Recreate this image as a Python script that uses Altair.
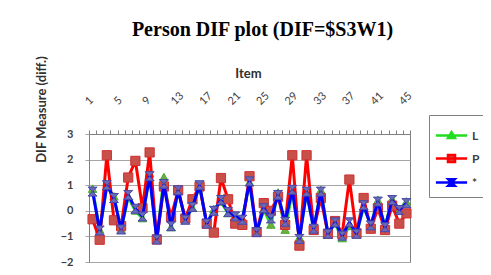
import altair as alt
import pandas as pd

ITEMS = list(range(1, 46))
SERIES = ["L", "P", "*"]
TICK_LABELS = [1, 5, 9, 13, 17, 21, 25, 29, 33, 37, 41, 45]
Y_TICKS = [-2, -1, 0, 1, 2, 3]

L_VALUES = [0.85, -0.75, 0.95, 0.55, -0.75, 0.55, 0.0, -0.3, 1.45, -1.12,
            1.3, -0.65, 0.8, -0.35, 0.1, 1.0, -0.5, 0.05, 0.35, -0.1,
            -0.2, -0.3, 1.1, -0.83, 0.05, -0.55, 0.7, -0.75, 0.75, -1.05,
            0.7, -0.7, 0.8, -0.9, -0.5, -1.08, -0.6, -0.9, 0.15, -0.55,
            0.4, -0.6, 0.45, 0.05, 0.35]
P_VALUES = [-0.33, -1.13, 2.17, -0.37, -0.6, 1.3, 1.95, 0.1, 2.28, -1.12,
            0.95, -0.25, 0.8, -0.3, 0.45, 0.95, -0.5, -0.85, 1.28, 0.45,
            -0.5, -0.55, 1.35, -0.83, 0.3, 0.0, 0.55, -0.55, 2.17, -1.36,
            2.17, -0.75, 0.5, -0.9, -0.4, -0.9, 1.22, -0.88, 0.5, -0.7,
            0.1, -0.75, 0.2, -0.5, -0.1]
ALL_VALUES = [0.75, -0.77, 1.0, 0.5, -0.73, 0.62, 0.08, -0.22, 1.35, -1.12,
              1.05, -0.6, 0.8, -0.35, 0.15, 1.0, -0.5, 0.0, 0.42, -0.05,
              -0.22, -0.35, 1.15, -0.83, 0.1, -0.3, 0.62, -0.43, 0.82, -1.1,
              0.75, -0.7, 0.75, -0.9, -0.45, -0.97, -0.45, -0.9, 0.22, -0.57,
              0.36, -0.64, 0.42, 0.03, 0.3]

LINE_COLORS = ["#22dd22", "#ff0000", "#0000ff"]
MARK_FILLS = ["#6fb03c", "#c8504a", "#6a6ab8"]
MARK_STROKES = ["#44aa33", "#d03030", "#4848a8"]
MARK_SHAPES = ["M0,-1L1,0.8L-1,0.8Z", "M-1,-1H1V1H-1Z", "M-1,-1L1,-1L-1,1L1,1Z"]
MARK_SIZES = [70, 85, 81]
LEGEND_SHAPES = [
    "M-1.2,0H1.2M0,-0.26L0.27,0.2L-0.27,0.2Z",
    "M-1.2,0H1.2M-0.27,-0.27H0.27V0.27H-0.27Z",
    "M-1.2,0H1.2M-0.25,-0.25L0.25,-0.25L-0.25,0.25L0.25,0.25Z",
]

rows = []
for s, vals in zip(SERIES, [L_VALUES, P_VALUES, ALL_VALUES]):
    for i, v in zip(ITEMS, vals):
        rows.append({"item": i, "series": s, "value": v})
df = pd.DataFrame(rows)

boundaries = [i - 0.5 for i in ITEMS] + [ITEMS[-1] + 0.5]
label_expr = (
    "indexof(" + str(TICK_LABELS) + ", datum.value + 0.5) >= 0 ? "
    "toString(datum.value + 0.5) : ''"
)

x_enc = alt.X(
    "item:Q",
    scale=alt.Scale(domain=[boundaries[0], boundaries[-1]], nice=False, zero=False),
    axis=alt.Axis(
        orient="top", values=boundaries, labelExpr=label_expr,
        labelAngle=-45, labelAlign="left", labelBaseline="middle",
        labelOffset=-2, labelPadding=27, labelOverlap=False, labelFlush=False,
        labelBound=False, labelFontSize=11, labelColor="#404040",
        tickSize=4, tickColor="#808080", domainColor="#808080", grid=False,
        title="Item", titleFontSize=13, titleFontWeight="bold", titleColor="#303030",
        titleX=159, titleY=-61, titleBaseline="middle", titleAlign="center",
    ),
)
y_enc = alt.Y(
    "value:Q",
    scale=alt.Scale(domain=[Y_TICKS[0], Y_TICKS[-1]], nice=False, zero=False),
    axis=alt.Axis(
        values=Y_TICKS, grid=True, gridColor="#a6a6a6", tickSize=4,
        tickColor="#a6a6a6", domainColor="#808080", labelPadding=12,
        labelFontSize=11, labelFontWeight="bold", labelColor="#404040",
        title="DIF Measure (diff.)", titleFontSize=13, titleFontWeight="bold",
        titleColor="#303030", titleAngle=270, titleX=-48, titleY=-25,
        titleBaseline="middle", titleAlign="center",
    ),
)

base = alt.Chart(df)
layers = []
for k, s in enumerate(SERIES):
    sub = base.transform_filter(alt.datum.series == s)
    layers.append(
        sub.mark_line(color=LINE_COLORS[k], strokeWidth=3).encode(x=x_enc, y=y_enc)
    )
    layers.append(
        sub.mark_point(
            shape=MARK_SHAPES[k], filled=True, fill=MARK_FILLS[k],
            stroke=MARK_STROKES[k], strokeWidth=1, size=MARK_SIZES[k], opacity=1,
        ).encode(x=x_enc, y=y_enc)
    )

legend = alt.Legend(
    orient="none", legendX=340, legendY=-19, title=None,
    symbolSize=676, symbolStrokeWidth=2.5, symbolOpacity=1,
    symbolFillColor="#ffffff", symbolOffset=2,
    labelFontSize=12, labelFontWeight="bold", labelColor="#404040",
    labelOffset=6, rowPadding=0, padding=6,
    strokeColor="#808080", fillColor="#ffffff",
)
legend_layer = base.transform_filter("false").mark_point(
    filled=False, strokeWidth=2.5
).encode(
    x=x_enc, y=y_enc,
    color=alt.Color("series:N", scale=alt.Scale(domain=SERIES, range=LINE_COLORS), legend=legend),
    fill=alt.Fill("series:N", scale=alt.Scale(domain=SERIES, range=MARK_FILLS), legend=legend),
    shape=alt.Shape("series:N", scale=alt.Scale(domain=SERIES, range=LEGEND_SHAPES), legend=legend),
)
layers.append(legend_layer)

chart = alt.layer(*layers).properties(
    width=321, height=128,
    title=alt.Title(
        "Person DIF plot (DIF=$S3W1)", font="Liberation Serif", fontSize=20,
        fontWeight="bold", color="#000000", anchor="middle", frame="group",
        dx=13, offset=16,
    ),
    autosize=alt.AutoSizeParams(type="none"),
    padding={"left": 81, "top": 126, "right": 73, "bottom": 4},
).configure(font="Lato").configure_view(stroke="#808080", strokeWidth=1)

chart.save("out.html", embed_options={"renderer": "svg", "actions": False})
